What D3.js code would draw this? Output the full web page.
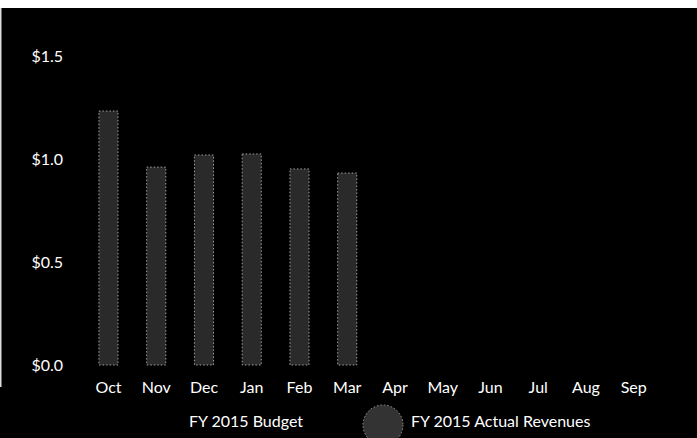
<!DOCTYPE html>
<html><head><meta charset="utf-8">
<script src="https://cdn.jsdelivr.net/npm/d3@7"></script>
<style>html,body{margin:0;padding:0;background:#fff;}svg{display:block;}</style>
</head><body>
<svg id="chart" width="697" height="438"></svg>
<script>
const months = ["Oct","Nov","Dec","Jan","Feb","Mar","Apr","May","Jun","Jul","Aug","Sep"];
const actualRevenues = [1.236, 0.963, 1.022, 1.027, 0.954, 0.934, null, null, null, null, null, null];
const yTicks = [0, 0.5, 1.0, 1.5];
const legendLabels = ["FY 2015 Budget", "FY 2015 Actual Revenues"];

const svg = d3.select("#chart");
const W = 697, H = 438;
const font = "Lato, 'Open Sans', sans-serif";
const fs = 16;

// background: white strip at top, thin white left edge, black panel
svg.append("rect").attr("x",0).attr("y",0).attr("width",W).attr("height",H).attr("fill","#fff");
svg.append("rect").attr("x",0).attr("y",8).attr("width",W).attr("height",H-8).attr("fill","#000");
svg.append("rect").attr("x",0).attr("y",8).attr("width",1.5).attr("height",379).attr("fill","#ddd");

const x = d3.scaleBand().domain(months).range([84.6, 657.6]).paddingInner(0.6).paddingOuter(0.3);
const y = d3.scaleLinear().domain([0, 1.5]).range([365, 56.75]);

// y axis labels
const yAxis = d3.axisLeft(y).tickValues(yTicks).tickSize(0).tickPadding(0)
  .tickFormat(d => "$" + d3.format(".1f")(d));
const gy = svg.append("g").attr("transform","translate(63,0)").call(yAxis);
gy.select(".domain").remove();
gy.selectAll("text").attr("fill","#fff").attr("font-family",font).attr("font-size",fs);

// bars
const data = months.map((m,i)=>({m, v: actualRevenues[i]})).filter(d=>d.v!=null);
svg.append("g").selectAll("rect").data(data).join("rect")
  .attr("x", d => x(d.m))
  .attr("y", d => y(d.v))
  .attr("width", x.bandwidth())
  .attr("height", d => y(0) - y(d.v))
  .attr("fill", "#2a2a2a")
  .attr("stroke", "#a0a0a0")
  .attr("stroke-width", 1)
  .attr("stroke-dasharray", "1.5 2");

// x axis labels
const xAxis = d3.axisBottom(x).tickSize(0).tickPadding(0);
const gx = svg.append("g").attr("transform","translate(0,382)").call(xAxis);
gx.select(".domain").remove();
gx.selectAll("text").attr("fill","#fff").attr("font-family",font).attr("font-size",fs);

// legend
const lg = svg.append("g");
lg.append("text").attr("x",246).attr("y",427).attr("text-anchor","middle")
  .attr("fill","#fff").attr("font-family",font).attr("font-size",fs).text(legendLabels[0]);
lg.append("circle").attr("cx",383).attr("cy",425).attr("r",20)
  .attr("fill","#333").attr("stroke","#9a9a9a").attr("stroke-dasharray","1.5 2");
lg.append("text").attr("x",411).attr("y",427).attr("text-anchor","start")
  .attr("fill","#fff").attr("font-family",font).attr("font-size",fs).text(legendLabels[1]);
</script>
</body></html>
